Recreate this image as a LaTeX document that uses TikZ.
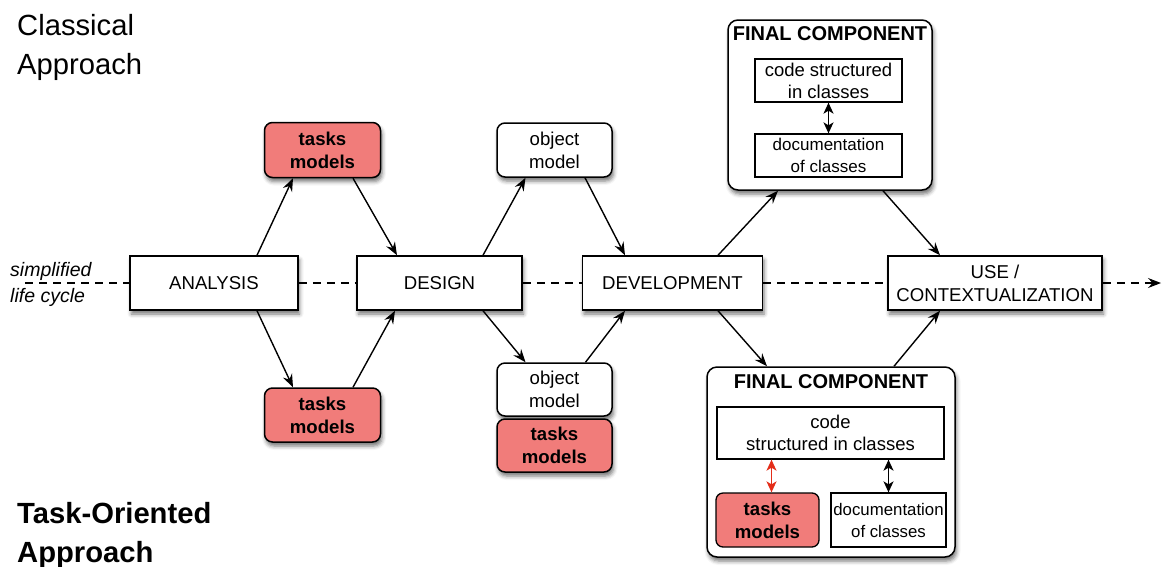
\documentclass[tikz,border=0pt]{standalone}
\usepackage{fontspec}
\setmainfont{Liberation Sans}
\usetikzlibrary{arrows.meta,shadows.blur}
\definecolor{taskred}{RGB}{241,124,122}
\definecolor{arrred}{RGB}{228,45,25}
\tikzset{
  base/.style={draw=black, line width=1.5pt, fill=white, inner sep=0pt, align=center,
    font=\fontsize{18.6}{23}\selectfont},
  shad/.style={blur shadow={shadow xshift=1.5pt, shadow yshift=-4pt, shadow blur radius=4pt, shadow opacity=55}},
  phasebox/.style={base, shad},
  roundbox/.style={base, shad, rounded corners=8pt},
  taskbox/.style={roundbox, fill=taskred, font=\fontsize{18.6}{23}\selectfont\bfseries},
  compbox/.style={base, shad, rounded corners=10pt},
  innerbox/.style={base, line width=1.3pt, font=\fontsize{18.5}{22}\selectfont},
  docbox/.style={innerbox, font=\fontsize{17}{22}\selectfont},
  innertask/.style={base, line width=1.3pt, rounded corners=7pt, fill=taskred, font=\fontsize{18.6}{23}\selectfont\bfseries},
  comptitle/.style={inner sep=0pt, font=\fontsize{20}{22}\selectfont\bfseries},
  arr/.style={line width=1.4pt, -{Stealth[length=13pt,width=10pt,inset=4.5pt]}},
  darr/.style={line width=1.5pt, {Stealth[length=11pt,width=10pt,inset=3pt]}-{Stealth[length=11pt,width=10pt,inset=3pt]}},
  life/.style={line width=1.2pt, dash pattern=on 8pt off 6pt},
  big/.style={inner sep=0pt, anchor=base west, font=\fontsize{29.2}{34}\selectfont},
  bigb/.style={big, font=\fontsize{29.2}{34}\selectfont\bfseries},
  side/.style={inner sep=0pt, anchor=base west, font=\fontsize{19.5}{22}\selectfont\itshape},
}
\begin{document}
\begin{tikzpicture}[x=1pt,y=-1pt]
\useasboundingbox (0,0) rectangle (1162,566);

% titles
\node[big] (cl1) at (17,35) {Classical};
\node[big] (cl2) at (17,74) {Approach};
\node[bigb] (to1) at (17,523) {Task-Oriented};
\node[bigb] (to2) at (17,562) {Approach};
\node[side] (sl1) at (10,276) {simplified};
\node[side] (sl2) at (10,302) {life cycle};

% life cycle phases
\node[phasebox, minimum width=168pt, minimum height=54pt] (ana) at (214,283) {ANALYSIS};
\node[phasebox, minimum width=165pt, minimum height=54pt] (des) at (439.5,283) {DESIGN};
\node[phasebox, minimum width=180pt, minimum height=54pt] (dev) at (672.5,283) {DEVELOPMENT};
\node[phasebox, minimum width=214pt, minimum height=54pt] (use) at (995,283) {USE /\\CONTEXTUALIZATION};

\coordinate (ls) at (25,283);
\coordinate (le) at (1161,283);
\draw[life] (ls) -- (ana.west);
\draw[life] (ana.east) -- (des.west);
\draw[life] (des.east) -- (dev.west);
\draw[life] (dev.east) -- (use.west);
\draw[life, -{Stealth[length=13pt,width=10pt,inset=4.5pt]}] (use.east) -- (le);

% models
\node[taskbox, minimum width=116pt, minimum height=55pt] (tt) at (322.5,150) {tasks\\models};
\node[taskbox, minimum width=116pt, minimum height=54pt] (tb) at (322.5,415) {tasks\\models};
\node[roundbox, minimum width=115pt, minimum height=54pt] (ot) at (554.5,150) {object\\model};
\node[roundbox, minimum width=115pt, minimum height=53pt] (ob) at (554.5,389.5) {object\\model};
\node[taskbox, minimum width=115pt, minimum height=53pt] (obt) at (554.5,445.5) {tasks\\models};

% final component (classical)
\node[compbox, minimum width=204pt, minimum height=170pt] (fct) at (830,105) {};
\node[comptitle] (fctt) at (830,34) {FINAL COMPONENT};
\node[innerbox, minimum width=147pt, minimum height=43pt] (fctc) at (828.5,80.5) {code structured\\in classes};
\node[docbox, minimum width=147pt, minimum height=43pt] (fctd) at (828.5,155.5) {documentation\\of classes};
\draw[darr] (fctc.south) -- (fctd.north);

% final component (task-oriented)
\node[compbox, minimum width=248pt, minimum height=190pt] (fcb) at (831,462) {};
\node[comptitle] (fcbt0) at (831,382) {FINAL COMPONENT};
\node[innerbox, minimum width=227pt, minimum height=52pt] (fcbc) at (830.5,433) {code\\structured in classes};
\node[innertask, minimum width=103pt, minimum height=54pt] (fcbt) at (767.5,520) {tasks\\models};
\node[docbox, minimum width=115pt, minimum height=54pt, font=\fontsize{16.8}{22}\selectfont] (fcbd) at (888.5,520) {documentation\\of classes};
\draw[darr, draw=arrred, fill=arrred] ([xshift=4pt]fcbt.north) -- ([xshift=4pt]fcbt.north |- fcbc.south);
\draw[darr] (fcbd.north) -- (fcbd.north |- fcbc.south);

% connectors
\draw[arr] ([xshift=43pt]ana.north) -- ([xshift=-29.5pt]tt.south);
\draw[arr] ([xshift=30.5pt]tt.south) -- ([xshift=-42.5pt]des.north);
\draw[arr] ([xshift=43pt]ana.south) -- ([xshift=-29.5pt]tb.north);
\draw[arr] ([xshift=30.5pt]tb.north) -- ([xshift=-44.5pt]des.south);
\draw[arr] ([xshift=43.5pt]des.north) -- ([xshift=-29pt]ot.south);
\draw[arr] ([xshift=30.5pt]ot.south) -- ([xshift=-47.5pt]dev.north);
\draw[arr] ([xshift=43.5pt]des.south) -- ([xshift=-29pt]ob.north);
\draw[arr] ([xshift=31pt]ob.north) -- ([xshift=-47.5pt]dev.south);
\draw[arr] ([xshift=45.5pt]dev.north) -- ([xshift=-52pt]fct.south);
\draw[arr] ([xshift=53pt]fct.south) -- ([xshift=-55pt]use.north);
\draw[arr] ([xshift=45.5pt]dev.south) -- ([xshift=-64pt]fcb.north);
\draw[arr] ([xshift=63pt]fcb.north) -- ([xshift=-55pt]use.south);
\end{tikzpicture}
\end{document}
